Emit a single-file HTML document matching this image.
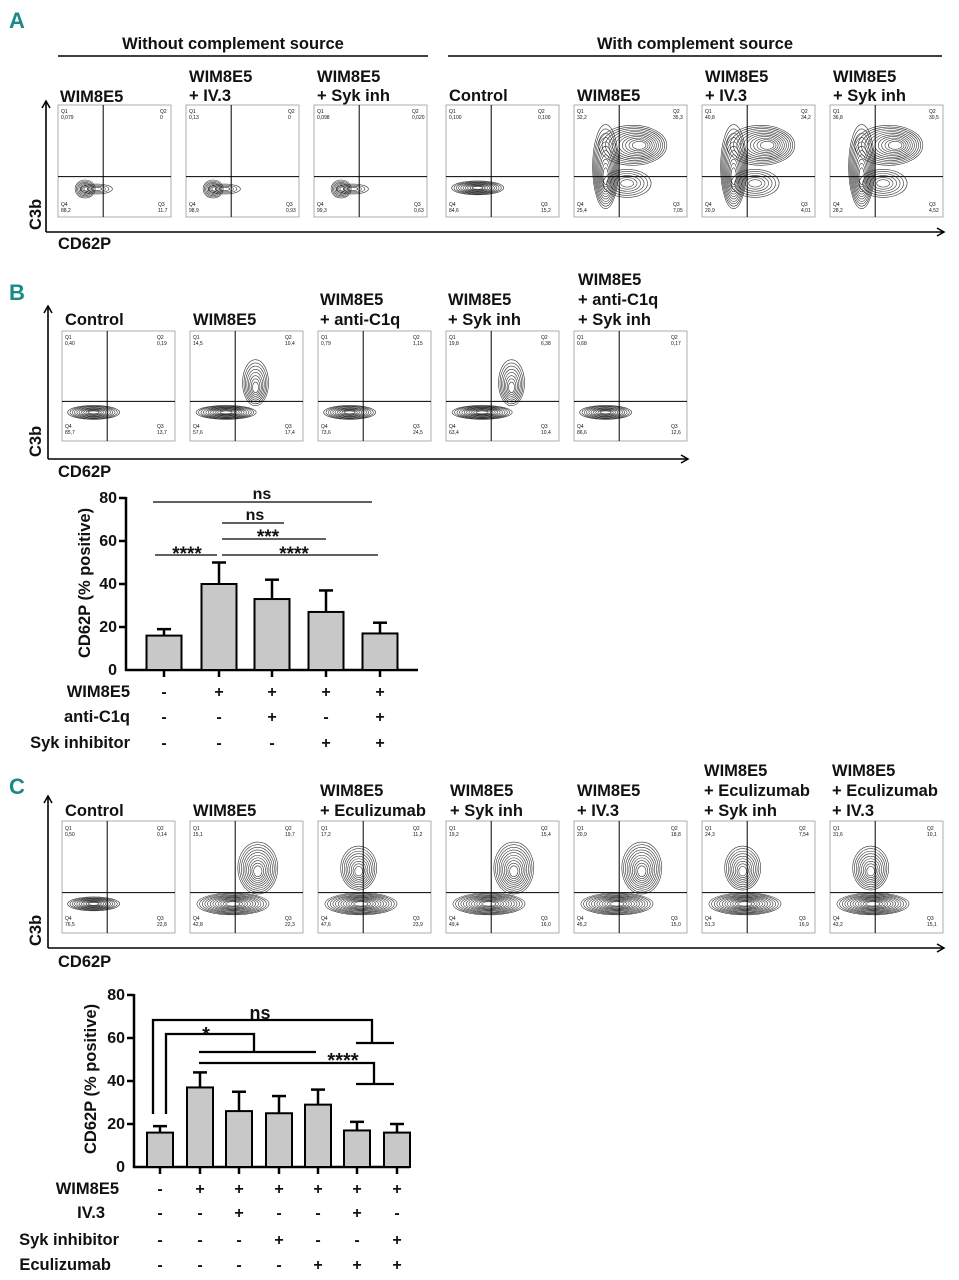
<!DOCTYPE html>
<html><head><meta charset="utf-8"><style>
body{margin:0;background:#fff}
svg{display:block}
text{font-family:"Liberation Sans",sans-serif;fill:#111}
.t{font-size:16.5px;font-weight:bold}
.s{font-size:5px}
.lab{font-size:22px;font-weight:bold;fill:#1a8a86}
</style></head><body>
<svg id="g" width="959" height="1280" viewBox="0 0 959 1280" xmlns="http://www.w3.org/2000/svg">
<defs><marker id="ar" markerWidth="10" markerHeight="10" refX="8" refY="5" orient="auto" markerUnits="userSpaceOnUse"><path d="M1,1 L8,5 L1,9" fill="none" stroke="#000" stroke-width="1.5"/></marker></defs>
<g stroke="#000" stroke-width="1.6" fill="none">
<line x1="46" y1="232" x2="46" y2="101" marker-end="url(#ar)"/>
<line x1="46" y1="232" x2="944" y2="232" marker-end="url(#ar)"/>
<line x1="58" y1="56" x2="428" y2="56"/><line x1="448" y1="56" x2="942" y2="56"/>
<line x1="48" y1="459" x2="48" y2="306" marker-end="url(#ar)"/>
<line x1="48" y1="459" x2="688" y2="459" marker-end="url(#ar)"/>
<line x1="48" y1="948" x2="48" y2="796" marker-end="url(#ar)"/>
<line x1="48" y1="948" x2="944" y2="948" marker-end="url(#ar)"/>
</g>
<text class="lab" x="9" y="28">A</text>
<text class="lab" x="9" y="300">B</text>
<text class="lab" x="9" y="794">C</text>
<text class="t" x="233" y="49" text-anchor="middle">Without complement source</text>
<text class="t" x="695" y="49" text-anchor="middle">With complement source</text>
<text class="t" x="60" y="102">WIM8E5</text>
<text class="t" x="189" y="82">WIM8E5</text><text class="t" x="189" y="101">+ IV.3</text>
<text class="t" x="317" y="82">WIM8E5</text><text class="t" x="317" y="101">+ Syk inh</text>
<text class="t" x="449" y="101">Control</text>
<text class="t" x="577" y="101">WIM8E5</text>
<text class="t" x="705" y="82">WIM8E5</text><text class="t" x="705" y="101">+ IV.3</text>
<text class="t" x="833" y="82">WIM8E5</text><text class="t" x="833" y="101">+ Syk inh</text>
<text class="t" transform="translate(41,230) rotate(-90)">C3b</text>
<text class="t" x="58" y="249">CD62P</text>
<text class="t" x="65" y="325">Control</text>
<text class="t" x="193" y="325">WIM8E5</text>
<text class="t" x="320" y="305">WIM8E5</text><text class="t" x="320" y="325">+ anti-C1q</text>
<text class="t" x="448" y="305">WIM8E5</text><text class="t" x="448" y="325">+ Syk inh</text>
<text class="t" x="578" y="285">WIM8E5</text><text class="t" x="578" y="305">+ anti-C1q</text><text class="t" x="578" y="325">+ Syk inh</text>
<text class="t" transform="translate(41,457) rotate(-90)">C3b</text>
<text class="t" x="58" y="477">CD62P</text>
<text class="t" x="65" y="816">Control</text>
<text class="t" x="193" y="816">WIM8E5</text>
<text class="t" x="320" y="796">WIM8E5</text><text class="t" x="320" y="816">+ Eculizumab</text>
<text class="t" x="450" y="796">WIM8E5</text><text class="t" x="450" y="816">+ Syk inh</text>
<text class="t" x="577" y="796">WIM8E5</text><text class="t" x="577" y="816">+ IV.3</text>
<text class="t" x="704" y="776">WIM8E5</text><text class="t" x="704" y="796">+ Eculizumab</text><text class="t" x="704" y="816">+ Syk inh</text>
<text class="t" x="832" y="776">WIM8E5</text><text class="t" x="832" y="796">+ Eculizumab</text><text class="t" x="832" y="816">+ IV.3</text>
<text class="t" transform="translate(41,946) rotate(-90)">C3b</text>
<text class="t" x="58" y="967">CD62P</text>

<g stroke="#000" stroke-width="2.5" fill="none">
<line x1="126" y1="497" x2="126" y2="671"/><line x1="125" y1="670" x2="418" y2="670"/>
<line x1="119" y1="498" x2="126" y2="498"/><line x1="119" y1="541" x2="126" y2="541"/><line x1="119" y1="584" x2="126" y2="584"/><line x1="119" y1="627" x2="126" y2="627"/>
<line x1="164" y1="670" x2="164" y2="677"/><line x1="219" y1="670" x2="219" y2="677"/><line x1="272" y1="670" x2="272" y2="677"/><line x1="326" y1="670" x2="326" y2="677"/><line x1="380" y1="670" x2="380" y2="677"/>
</g>
<g id="barsB"></g>
<g stroke="#000" stroke-width="1.3">
<line x1="153" y1="502" x2="372" y2="502"/>
<line x1="222" y1="523" x2="284" y2="523"/>
<line x1="222" y1="539" x2="326" y2="539"/>
<line x1="222" y1="555" x2="378" y2="555"/>
<line x1="155" y1="555" x2="217" y2="555"/>
</g>
<g font-size="16" font-weight="bold">
<text x="262" y="499" text-anchor="middle">ns</text>
<text x="255" y="520" text-anchor="middle">ns</text>
<text x="268" y="543" text-anchor="middle" font-size="19">***</text>
<text x="294" y="560" text-anchor="middle" font-size="19">****</text>
<text x="187" y="560" text-anchor="middle" font-size="19">****</text>
</g>
<g font-size="16" font-weight="bold" text-anchor="end">
<text x="117" y="503">80</text><text x="117" y="546">60</text><text x="117" y="589">40</text><text x="117" y="632">20</text><text x="117" y="675">0</text>
</g>
<text class="t" transform="translate(90,658) rotate(-90)">CD62P (% positive)</text>
<g class="t">
<text x="130" y="697" text-anchor="end">WIM8E5</text>
<text x="130" y="722" text-anchor="end">anti-C1q</text>
<text x="130" y="748" text-anchor="end">Syk inhibitor</text>
</g>
<g font-size="16" font-weight="bold" text-anchor="middle">
<text x="164" y="697">-</text><text x="219" y="697">+</text><text x="272" y="697">+</text><text x="326" y="697">+</text><text x="380" y="697">+</text>
<text x="164" y="722">-</text><text x="219" y="722">-</text><text x="272" y="722">+</text><text x="326" y="722">-</text><text x="380" y="722">+</text>
<text x="164" y="748">-</text><text x="219" y="748">-</text><text x="272" y="748">-</text><text x="326" y="748">+</text><text x="380" y="748">+</text>
</g>

<g stroke="#000" stroke-width="2.5" fill="none">
<line x1="134" y1="994" x2="134" y2="1168"/><line x1="133" y1="1167" x2="410" y2="1167"/>
<line x1="127" y1="995" x2="134" y2="995"/><line x1="127" y1="1038" x2="134" y2="1038"/><line x1="127" y1="1081" x2="134" y2="1081"/><line x1="127" y1="1124" x2="134" y2="1124"/>
<line x1="160" y1="1167" x2="160" y2="1174"/><line x1="200" y1="1167" x2="200" y2="1174"/><line x1="239" y1="1167" x2="239" y2="1174"/><line x1="279" y1="1167" x2="279" y2="1174"/><line x1="318" y1="1167" x2="318" y2="1174"/><line x1="357" y1="1167" x2="357" y2="1174"/><line x1="397" y1="1167" x2="397" y2="1174"/>
</g>
<g id="barsC"></g>
<g stroke="#000" stroke-width="2.3" fill="none">
<polyline points="153,1114 153,1020 372,1020 372,1043"/><line x1="356" y1="1043" x2="394" y2="1043"/>
<polyline points="166,1114 166,1034 254,1034 254,1052"/><line x1="199" y1="1052" x2="316" y2="1052"/>
<polyline points="199,1063 374,1063 374,1084"/><line x1="356" y1="1084" x2="394" y2="1084"/>
</g>
<g font-size="18" font-weight="bold">
<text x="260" y="1019" text-anchor="middle">ns</text>
<text x="206" y="1041" text-anchor="middle" font-size="20">*</text>
<text x="343" y="1067" text-anchor="middle" font-size="20">****</text>
</g>
<g font-size="16" font-weight="bold" text-anchor="end">
<text x="125" y="1000">80</text><text x="125" y="1043">60</text><text x="125" y="1086">40</text><text x="125" y="1129">20</text><text x="125" y="1172">0</text>
</g>
<text class="t" transform="translate(96,1154) rotate(-90)">CD62P (% positive)</text>
<g class="t" text-anchor="end">
<text x="119" y="1194">WIM8E5</text>
<text x="105" y="1218">IV.3</text>
<text x="119" y="1245">Syk inhibitor</text>
<text x="111" y="1270">Eculizumab</text>
</g>
<g font-size="16" font-weight="bold" text-anchor="middle">
<text x="160" y="1194">-</text><text x="200" y="1194">+</text><text x="239" y="1194">+</text><text x="279" y="1194">+</text><text x="318" y="1194">+</text><text x="357" y="1194">+</text><text x="397" y="1194">+</text>
<text x="160" y="1218">-</text><text x="200" y="1218">-</text><text x="239" y="1218">+</text><text x="279" y="1218">-</text><text x="318" y="1218">-</text><text x="357" y="1218">+</text><text x="397" y="1218">-</text>
<text x="160" y="1245">-</text><text x="200" y="1245">-</text><text x="239" y="1245">-</text><text x="279" y="1245">+</text><text x="318" y="1245">-</text><text x="357" y="1245">-</text><text x="397" y="1245">+</text>
<text x="160" y="1270">-</text><text x="200" y="1270">-</text><text x="239" y="1270">-</text><text x="279" y="1270">-</text><text x="318" y="1270">+</text><text x="357" y="1270">+</text><text x="397" y="1270">+</text>
</g>

<g class="s">
<text x="61" y="113">Q1</text><text x="61" y="119">0,079</text><text x="160" y="113">Q2</text><text x="160" y="119">0</text><text x="61" y="206">Q4</text><text x="61" y="212">88,2</text><text x="158" y="206">Q3</text><text x="158" y="212">11,7</text>
<text x="189" y="113">Q1</text><text x="189" y="119">0,13</text><text x="288" y="113">Q2</text><text x="288" y="119">0</text><text x="189" y="206">Q4</text><text x="189" y="212">98,9</text><text x="286" y="206">Q3</text><text x="286" y="212">0,93</text>
<text x="317" y="113">Q1</text><text x="317" y="119">0,098</text><text x="412" y="113">Q2</text><text x="412" y="119">0,020</text><text x="317" y="206">Q4</text><text x="317" y="212">99,3</text><text x="414" y="206">Q3</text><text x="414" y="212">0,63</text>
<text x="449" y="113">Q1</text><text x="449" y="119">0,100</text><text x="538" y="113">Q2</text><text x="538" y="119">0,100</text><text x="449" y="206">Q4</text><text x="449" y="212">84,6</text><text x="541" y="206">Q3</text><text x="541" y="212">15,2</text>
<text x="577" y="113">Q1</text><text x="577" y="119">32,2</text><text x="673" y="113">Q2</text><text x="673" y="119">35,3</text><text x="577" y="206">Q4</text><text x="577" y="212">25,4</text><text x="673" y="206">Q3</text><text x="673" y="212">7,05</text>
<text x="705" y="113">Q1</text><text x="705" y="119">40,8</text><text x="801" y="113">Q2</text><text x="801" y="119">34,2</text><text x="705" y="206">Q4</text><text x="705" y="212">20,9</text><text x="801" y="206">Q3</text><text x="801" y="212">4,01</text>
<text x="833" y="113">Q1</text><text x="833" y="119">36,8</text><text x="929" y="113">Q2</text><text x="929" y="119">30,5</text><text x="833" y="206">Q4</text><text x="833" y="212">28,2</text><text x="929" y="206">Q3</text><text x="929" y="212">4,52</text>
<text x="65" y="339">Q1</text><text x="65" y="345">0,40</text><text x="157" y="339">Q2</text><text x="157" y="345">0,19</text><text x="65" y="428">Q4</text><text x="65" y="434">85,7</text><text x="157" y="428">Q3</text><text x="157" y="434">13,7</text>
<text x="193" y="339">Q1</text><text x="193" y="345">14,5</text><text x="285" y="339">Q2</text><text x="285" y="345">10,4</text><text x="193" y="428">Q4</text><text x="193" y="434">57,6</text><text x="285" y="428">Q3</text><text x="285" y="434">17,4</text>
<text x="321" y="339">Q1</text><text x="321" y="345">0,79</text><text x="413" y="339">Q2</text><text x="413" y="345">1,15</text><text x="321" y="428">Q4</text><text x="321" y="434">73,6</text><text x="413" y="428">Q3</text><text x="413" y="434">24,5</text>
<text x="449" y="339">Q1</text><text x="449" y="345">19,8</text><text x="541" y="339">Q2</text><text x="541" y="345">6,38</text><text x="449" y="428">Q4</text><text x="449" y="434">63,4</text><text x="541" y="428">Q3</text><text x="541" y="434">10,4</text>
<text x="577" y="339">Q1</text><text x="577" y="345">0,68</text><text x="671" y="339">Q2</text><text x="671" y="345">0,17</text><text x="577" y="428">Q4</text><text x="577" y="434">86,6</text><text x="671" y="428">Q3</text><text x="671" y="434">12,6</text>
<text x="65" y="830">Q1</text><text x="65" y="836">0,50</text><text x="157" y="830">Q2</text><text x="157" y="836">0,14</text><text x="65" y="920">Q4</text><text x="65" y="926">76,5</text><text x="157" y="920">Q3</text><text x="157" y="926">22,8</text>
<text x="193" y="830">Q1</text><text x="193" y="836">15,1</text><text x="285" y="830">Q2</text><text x="285" y="836">19,7</text><text x="193" y="920">Q4</text><text x="193" y="926">42,8</text><text x="285" y="920">Q3</text><text x="285" y="926">22,3</text>
<text x="321" y="830">Q1</text><text x="321" y="836">17,2</text><text x="413" y="830">Q2</text><text x="413" y="836">11,2</text><text x="321" y="920">Q4</text><text x="321" y="926">47,6</text><text x="413" y="920">Q3</text><text x="413" y="926">23,9</text>
<text x="449" y="830">Q1</text><text x="449" y="836">19,2</text><text x="541" y="830">Q2</text><text x="541" y="836">15,4</text><text x="449" y="920">Q4</text><text x="449" y="926">49,4</text><text x="541" y="920">Q3</text><text x="541" y="926">16,0</text>
<text x="577" y="830">Q1</text><text x="577" y="836">20,9</text><text x="671" y="830">Q2</text><text x="671" y="836">18,8</text><text x="577" y="920">Q4</text><text x="577" y="926">45,2</text><text x="671" y="920">Q3</text><text x="671" y="926">15,0</text>
<text x="705" y="830">Q1</text><text x="705" y="836">24,3</text><text x="799" y="830">Q2</text><text x="799" y="836">7,54</text><text x="705" y="920">Q4</text><text x="705" y="926">51,3</text><text x="799" y="920">Q3</text><text x="799" y="926">16,9</text>
<text x="833" y="830">Q1</text><text x="833" y="836">31,6</text><text x="927" y="830">Q2</text><text x="927" y="836">10,1</text><text x="833" y="920">Q4</text><text x="833" y="926">43,2</text><text x="927" y="920">Q3</text><text x="927" y="926">15,1</text>
</g>
<g id="plots"></g>
</svg>
<script>
var NS="http://www.w3.org/2000/svg";
function el(p,n,a){var e=document.createElementNS(NS,n);for(var k in a)e.setAttribute(k,a[k]);p.appendChild(e);return e;}
var P=document.getElementById("plots");
function plot(x,y,w,h,type){
  var g=el(P,"g",{});
  var qx=x+w*0.4, qy=y+h*0.64;
  var cg=el(g,"g",{stroke:"#333",fill:"none","stroke-width":"0.6"});
  function cont(cx,cy,rx,ry,n,dx,dy){dx=dx||0;dy=dy||0;for(var i=1;i<=n;i++){var f=0.12+0.88*i/n;el(cg,"ellipse",{cx:cx+dx*(1-f),cy:cy+dy*(1-f),rx:rx*f,ry:ry*f});}}
  if(type=="dot"){cont(x+w*0.24,y+h*0.75,10,9,7);cont(x+w*0.34,y+h*0.75,16,5,4);}
  else if(type=="flat"){cont(x+w*0.28,y+h*0.74,26,7,10);}
  else if(type=="flatT"){cont(x+w*0.32,y+h*0.74,30,7,11);cont(x+w*0.58,y+h*0.47,13,23,8,0,6);}
  else if(type=="bigA"){cont(x+w*0.28,y+h*0.55,13,42,11,0,12);cont(x+w*0.52,y+h*0.36,34,20,11,8,0);cont(x+w*0.47,y+h*0.7,24,14,6);}
  else if(type=="bigC"){cont(x+w*0.38,y+h*0.74,36,11,12);cont(x+w*0.6,y+h*0.42,20,26,10,0,4);}
  else if(type=="ecu"){cont(x+w*0.38,y+h*0.74,36,11,12);cont(x+w*0.36,y+h*0.42,18,22,9,0,4);}
  el(g,"rect",{x:x,y:y,width:w,height:h,fill:"none",stroke:"#999","stroke-width":"0.8"});
  el(g,"line",{x1:qx,y1:y,x2:qx,y2:y+h,stroke:"#000","stroke-width":"1"});
  el(g,"line",{x1:x,y1:qy,x2:x+w,y2:qy,stroke:"#000","stroke-width":"1"});
}
var ax=[58,186,314,446,574,702,830],at=["dot","dot","dot","flat","bigA","bigA","bigA"];
ax.forEach(function(x,i){plot(x,105,113,112,at[i]);});
var bx=[62,190,318,446,574],bt=["flat","flatT","flat","flatT","flat"];
bx.forEach(function(x,i){plot(x,331,113,110,bt[i]);});
var cx=[62,190,318,446,574,702,830],ct=["flat","bigC","ecu","bigC","bigC","ecu","ecu"];
cx.forEach(function(x,i){plot(x,821,113,112,ct[i]);});
function bars(id,xs,vals,errs,y0,sc,w){
  var g=document.getElementById(id);
  xs.forEach(function(x,i){
    var t=y0-vals[i]*sc,e=y0-errs[i]*sc;
    el(g,"line",{x1:x,y1:t,x2:x,y2:e,stroke:"#000","stroke-width":"2.5"});
    el(g,"line",{x1:x-7,y1:e,x2:x+7,y2:e,stroke:"#000","stroke-width":"2.5"});
    el(g,"rect",{x:x-w/2,y:t,width:w,height:y0-t,fill:"#c8c8c8",stroke:"#000","stroke-width":"2"});
  });
}
bars("barsB",[164,219,272,326,380],[16,40,33,27,17],[19,50,42,37,22],670,2.15,35);
bars("barsC",[160,200,239,279,318,357,397],[16,37,26,25,29,17,16],[19,44,35,33,36,21,20],1167,2.15,26);
</script>
</body></html>
